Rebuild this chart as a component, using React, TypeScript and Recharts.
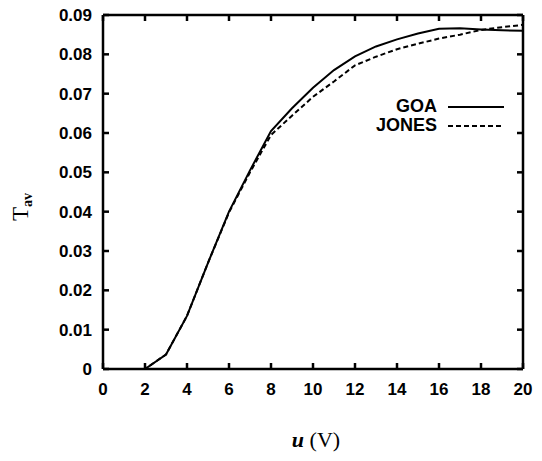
import { LineChart, Line, XAxis, YAxis } from 'recharts'

// bias voltage u (V)
const voltage = [0, 1, 2, 3, 4, 5, 6, 7, 8, 9, 10, 11, 12, 13, 14, 15, 16, 17, 18, 19, 20]
// averaged transmission
const goa = [0, 0, 0, 0.0037, 0.0135, 0.027, 0.04, 0.0505, 0.0605, 0.0663, 0.0715, 0.076, 0.0795, 0.082, 0.0838, 0.0853, 0.0865, 0.0866, 0.0863, 0.0861, 0.086]
const jones = [0, 0, 0, 0.0037, 0.0135, 0.027, 0.0398, 0.05, 0.0595, 0.0644, 0.0692, 0.0731, 0.0772, 0.0794, 0.0813, 0.0827, 0.084, 0.085, 0.0862, 0.0869, 0.0875]

const xTicks = [0, 2, 4, 6, 8, 10, 12, 14, 16, 18, 20]
const yTicks = [0, 0.01, 0.02, 0.03, 0.04, 0.05, 0.06, 0.07, 0.08, 0.09]

const data = voltage.map((u, i) => ({ u, goa: goa[i], jones: jones[i] }))

const sans = 'Liberation Sans, Arial, sans-serif'
const serif = 'Liberation Serif, Times New Roman, serif'
const M = 12 // tick margin
const T = 6 // inward tick length

const fmtY = (v: number) => (v === 0 ? '0' : v.toFixed(2))

// ticks drawn inward from the frame, labels outside
const BottomTick = ({ x, y, payload }: any) => (
  <g>
    <line x1={x} x2={x} y1={y - M} y2={y - M - T} stroke="#000" strokeWidth={2.5} />
    <text x={x} y={y + 2} dy="0.71em" textAnchor="middle" fontFamily={sans} fontSize={17} fontWeight="bold" fill="#000">
      {payload.value}
    </text>
  </g>
)
const LeftTick = ({ x, y, payload }: any) => (
  <g>
    <line x1={x + M} x2={x + M + T} y1={y} y2={y} stroke="#000" strokeWidth={2.5} />
    <text x={x + 1} y={y} dy="0.355em" textAnchor="end" fontFamily={sans} fontSize={17} fontWeight="bold" fill="#000">
      {fmtY(payload.value)}
    </text>
  </g>
)
const TopTick = ({ x, y }: any) => (
  <line x1={x} x2={x} y1={y + M} y2={y + M + T} stroke="#000" strokeWidth={2.5} />
)
const RightTick = ({ x, y }: any) => (
  <line x1={x - M} x2={x - M - T} y1={y} y2={y} stroke="#000" strokeWidth={2.5} />
)

const YLabel = () => (
  <text
    x={28}
    y={207}
    transform="rotate(-90, 28, 207)"
    textAnchor="middle"
    fontFamily={serif}
    fontSize={23}
    fill="#000"
  >
    <tspan>T</tspan>
    <tspan fontSize={14} fontWeight="bold" dy={4}>av</tspan>
  </text>
)

const XLabel = () => (
  <text x={316} y={447} textAnchor="middle" fontFamily={serif} fontSize={22} fill="#000">
    <tspan fontStyle="italic" fontWeight="bold">u</tspan>
    <tspan> (V)</tspan>
  </text>
)

export default function App() {
  return (
    <div style={{ position: 'absolute', left: 0, top: 0, width: 542, height: 461, background: '#fff' }}>
      <LineChart width={542} height={461} data={data} margin={{ top: 14, right: 18, left: 0, bottom: 0 }}>
        <XAxis
          dataKey="u"
          type="number"
          domain={[0, 20]}
          ticks={xTicks}
          height={92}
          tick={BottomTick}
          tickLine={false}
          tickSize={0}
          tickMargin={M}
          stroke="#000"
          strokeWidth={2.5}
          label={{ content: XLabel }}
        />
        <XAxis
          xAxisId="top"
          dataKey="u"
          orientation="top"
          type="number"
          domain={[0, 20]}
          ticks={xTicks}
          height={1}
          tick={TopTick}
          tickLine={false}
          tickSize={0}
          tickMargin={M}
          stroke="#000"
          strokeWidth={2.5}
        />
        <YAxis
          type="number"
          domain={[0, 0.09]}
          ticks={yTicks}
          width={103}
          tick={LeftTick}
          tickLine={false}
          tickSize={0}
          tickMargin={M}
          stroke="#000"
          strokeWidth={2.5}
          label={{ content: YLabel }}
        />
        <YAxis
          yAxisId="right"
          orientation="right"
          type="number"
          domain={[0, 0.09]}
          ticks={yTicks}
          width={1}
          tick={RightTick}
          tickLine={false}
          tickSize={0}
          tickMargin={M}
          stroke="#000"
          strokeWidth={2.5}
        />
        <Line type="linear" dataKey="goa" stroke="#000" strokeWidth={2} dot={false} isAnimationActive={false} />
        <Line
          xAxisId="top"
          yAxisId="right"
          type="linear"
          dataKey="jones"
          stroke="#000"
          strokeWidth={2}
          strokeDasharray="5 3"
          dot={false}
          isAnimationActive={false}
        />
      </LineChart>

      <div style={{ position: 'absolute', right: 105, top: 97, textAlign: 'right', fontFamily: sans, fontWeight: 'bold', fontSize: 18, lineHeight: '19px' }}>
        <div>GOA</div>
        <div>JONES</div>
      </div>
      <svg style={{ position: 'absolute', left: 448, top: 100 }} width={56} height={32}>
        <line x1={0} y1={7} x2={56} y2={7} stroke="#000" strokeWidth={2} />
        <line x1={0} y1={26} x2={56} y2={26} stroke="#000" strokeWidth={2} strokeDasharray="5 3" />
      </svg>
    </div>
  )
}
